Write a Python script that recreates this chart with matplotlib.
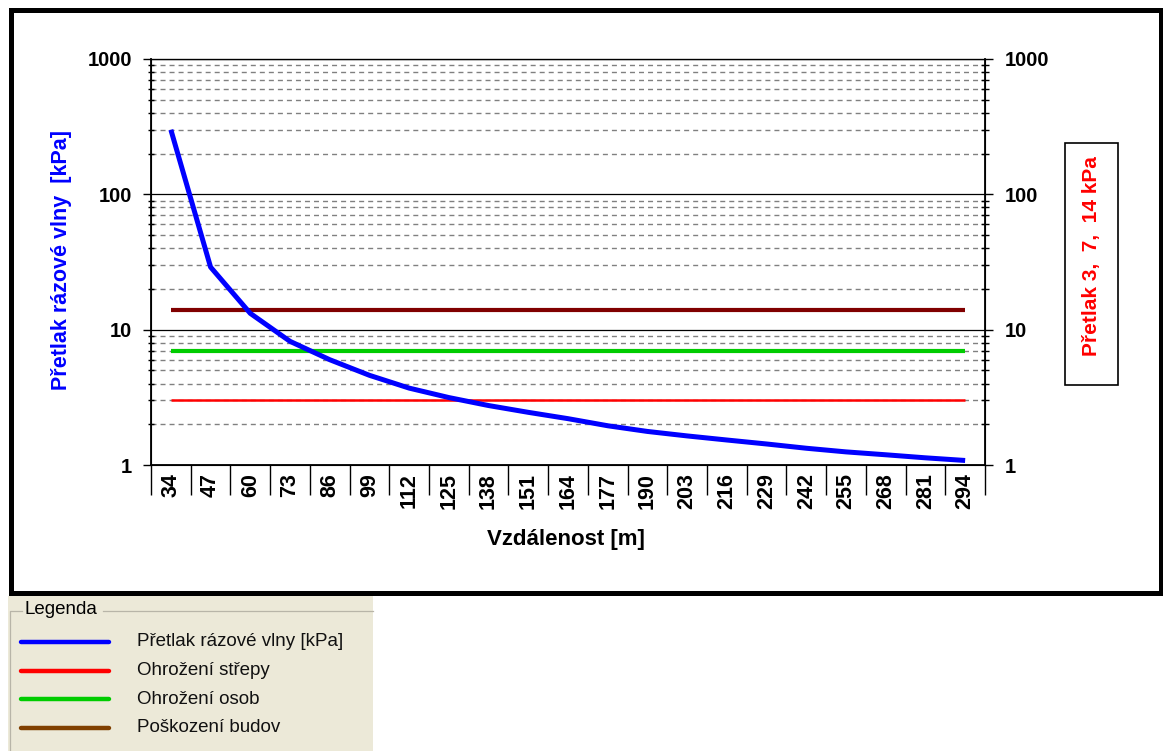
import matplotlib
matplotlib.use('Agg')
import matplotlib.pyplot as plt
from matplotlib.patches import Rectangle
from matplotlib.lines import Line2D
from matplotlib.ticker import LogLocator, NullFormatter, FuncFormatter, FixedLocator

plt.rcParams['font.family'] = ['Liberation Sans', 'DejaVu Sans']
plt.rcParams['lines.scale_dashes'] = False

# vzdalenost [m] a pretlak razove vlny [kPa]
vzdalenost = [34, 47, 60, 73, 86, 99, 112, 125, 138, 151, 164, 177, 190,
              203, 216, 229, 242, 255, 268, 281, 294]
pretlak = [300, 29, 13.2, 8.2, 6.0, 4.6, 3.7, 3.15, 2.75, 2.45, 2.2, 1.95,
           1.77, 1.64, 1.53, 1.43, 1.33, 1.25, 1.19, 1.13, 1.08]

# limity ohrozeni [kPa]
limit_strepy = 3
limit_osoby = 7
limit_budovy = 14

legenda_texty = ['Přetlak rázové vlny [kPa]', 'Ohrožení střepy',
                 'Ohrožení osob', 'Poškození budov']
legenda_barvy = ['#0000ff', '#ff0000', '#00cc00', '#804000']

W, H = 1163, 751
fig = plt.figure(figsize=(W / 100, H / 100), dpi=100)
fig.patch.set_facecolor('white')


def fx(px):
    return px / W


def fy(py):
    return 1 - py / H


# cerny ramecek okolo grafu
fig.add_artist(Rectangle((fx(10.5), fy(592.5)), fx(1160.5) - fx(10.5), fy(9.5) - fy(592.5),
                         transform=fig.transFigure, fill=False, ec='black', lw=3.6))

ax = fig.add_axes([fx(151), fy(465), fx(985) - fx(151), fy(59) - fy(465)])
ax2 = ax.twinx()

n = len(vzdalenost)
x = list(range(n))

ax.plot(x, [limit_budovy] * n, color='#800000', lw=3.0, solid_capstyle='butt', zorder=3)
ax.plot(x, [limit_osoby] * n, color='#00cc00', lw=3.0, solid_capstyle='butt', zorder=3)
ax.plot(x, [limit_strepy] * n, color='#ff0000', lw=1.8, solid_capstyle='butt', zorder=3)
ax.plot(x, pretlak, color='#0000ff', lw=3.6, solid_capstyle='butt', zorder=4)

for a in (ax, ax2):
    a.set_yscale('log')
    a.set_ylim(1, 1000)
    a.yaxis.set_major_locator(LogLocator(base=10))
    a.yaxis.set_minor_locator(LogLocator(base=10, subs=range(2, 10)))
    a.yaxis.set_minor_formatter(NullFormatter())
    a.yaxis.set_major_formatter(FuncFormatter(lambda v, p: '%g' % v))
    for s in a.spines.values():
        s.set_color('black')

ax.set_xlim(-0.5, n - 0.5)
ax.set_axisbelow(True)
ax.grid(which='major', axis='y', color='black', lw=0.9)
ax.grid(which='minor', axis='y', color='#808080', lw=1.0, ls=(0, (3.6, 2.9)))

# popisky kategorii mezi carkami
ax.set_xticks(x)
ax.set_xticklabels([str(v) for v in vzdalenost], rotation=90, fontsize=15.5, fontweight='bold')
ax.xaxis.set_minor_locator(FixedLocator([i - 0.5 for i in range(n + 1)]))
ax.tick_params(axis='x', which='major', length=0, pad=6)
ax.tick_params(axis='x', which='minor', length=21.6, width=1.0, direction='out')

ax.tick_params(axis='y', which='major', length=5.5, width=1.0, direction='out', pad=8,
               labelsize=14.5)
ax.tick_params(axis='y', which='minor', length=5, width=1.0, direction='inout')
ax2.tick_params(axis='y', which='major', length=6, width=1.0, direction='out', pad=8,
                labelsize=14.5)
ax2.tick_params(axis='y', which='minor', length=6, width=1.0, direction='inout')
for lab in ax.get_yticklabels() + ax2.get_yticklabels():
    lab.set_fontweight('bold')

ax.spines['left'].set_linewidth(1.3)
ax2.spines['right'].set_linewidth(1.3)
ax.spines['bottom'].set_linewidth(1.3)
ax.spines['top'].set_linewidth(0.9)

fig.text(fx(566), fy(540), 'Vzdálenost [m]', ha='center', va='center',
         fontsize=16, fontweight='bold')
fig.text(fx(61), fy(260), 'Přetlak rázové vlny  [kPa]', ha='center', va='center',
         rotation=90, color='#0000ff', fontsize=15.5, fontweight='bold')

# ramecek s limity vpravo
fig.add_artist(Rectangle((fx(1064.5), fy(384.5)), fx(1117.5) - fx(1064.5), fy(142.5) - fy(384.5),
                         transform=fig.transFigure, fill=False, ec='black', lw=1.2))
fig.text(fx(1091), fy(256), 'Přetlak 3,  7,  14 kPa', ha='center', va='center',
         rotation=90, color='#ff0000', fontsize=15, fontweight='bold')

# legenda pod grafem
fig.add_artist(Rectangle((fx(8), fy(751)), fx(373) - fx(8), fy(596) - fy(751),
                         transform=fig.transFigure, fc='#ece9d8', ec='none'))
fig.add_artist(Line2D([fx(10), fx(10), fx(22)], [fy(751), fy(611), fy(611)],
                      transform=fig.transFigure, color='#b8b5a8', lw=0.9))
fig.add_artist(Line2D([fx(103), fx(373)], [fy(611), fy(611)],
                      transform=fig.transFigure, color='#b8b5a8', lw=0.9))
fig.text(fx(25), fy(610), 'Legenda', ha='left', va='center', fontsize=13.5, color='black')
for i, (txt, c) in enumerate(zip(legenda_texty, legenda_barvy)):
    yy = 642 + i * 28.5
    fig.add_artist(Line2D([fx(21), fx(109)], [fy(yy), fy(yy)], transform=fig.transFigure,
                          color=c, lw=3.2, solid_capstyle='round'))
    fig.text(fx(137), fy(yy), txt, ha='left', va='center', fontsize=13.5, color='#111111')

fig.savefig('out.png', dpi=100)
